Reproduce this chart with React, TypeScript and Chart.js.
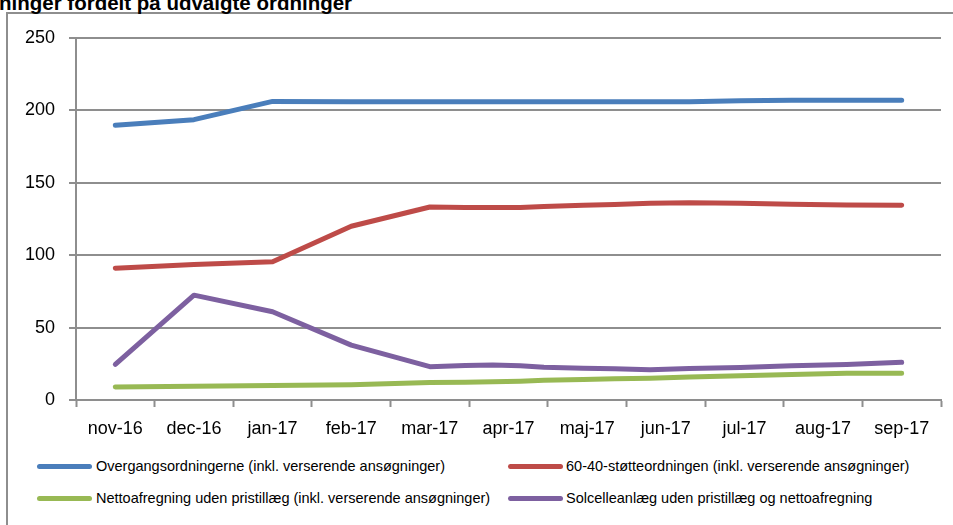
import React, { useEffect, useRef } from 'react';
import { Chart, registerables } from 'chart.js';

Chart.register(...registerables);

const title = 'ninger fordelt på udvalgte ordninger';
const months = ['nov-16', 'dec-16', 'jan-17', 'feb-17', 'mar-17', 'apr-17', 'maj-17', 'jun-17', 'jul-17', 'aug-17', 'sep-17'];
// observation dates as month positions (0 = nov-16)
const obsMonths = [0, 1, 2, 3, 4, 4.45, 4.8, 5.15, 5.45, 5.95, 6.35, 6.8, 7.3, 7.95, 8.6, 9.3, 10];
const overgang = [189.7, 193.6, 206.2, 206, 206, 206, 206, 206, 206, 206, 206, 206, 206, 206.6, 207, 207, 207];
const stoette = [91, 93.5, 95.5, 120, 133.3, 133, 133, 133, 133.6, 134.5, 135, 135.8, 136.3, 135.8, 135.2, 134.6, 134.5];
const netto = [9, 9.5, 10, 10.5, 12, 12.3, 12.6, 13, 13.6, 14.2, 14.6, 15, 15.8, 16.8, 17.6, 18.4, 18.5];
const solcelle = [24.6, 72.4, 60.9, 37.9, 23, 23.8, 24.2, 23.6, 22.6, 21.9, 21.5, 20.9, 21.8, 22.5, 23.6, 24.6, 26];
const yTicks = [0, 50, 100, 150, 200, 250];

const seriesNames = [
  'Overgangsordningerne (inkl. verserende ansøgninger)',
  '60-40-støtteordningen (inkl. verserende ansøgninger)',
  'Nettoafregning uden pristillæg (inkl. verserende ansøgninger)',
  'Solcelleanlæg uden pristillæg og nettoafregning',
];
const seriesValues = [overgang, stoette, netto, solcelle];
const seriesColors = ['#4A7EBB', '#BE4B48', '#98B954', '#7D60A0'];

const GRAY = '#8e8e8e';
const FONT = "'Liberation Sans', Arial, sans-serif";

export default function App() {
  const ref = useRef<HTMLCanvasElement | null>(null);

  useEffect(() => {
    if (!ref.current) return;
    const chart = new Chart(ref.current, {
      type: 'line',
      data: {
        datasets: seriesNames.map((name, si) => ({
          label: name,
          data: obsMonths.map((x, i) => ({ x, y: seriesValues[si][i] })),
          borderColor: seriesColors[si],
          backgroundColor: seriesColors[si],
          borderWidth: 5,
          pointRadius: 0,
          tension: 0,
          borderCapStyle: 'round',
          borderJoinStyle: 'round',
          fill: false,
        })),
      },
      options: {
        animation: false,
        responsive: false,
        maintainAspectRatio: false,
        layout: { padding: { top: 38, right: 12, left: 0, bottom: 0 } },
        plugins: { legend: { display: false }, tooltip: { enabled: false } },
        scales: {
          x: {
            type: 'linear',
            min: -0.5,
            max: months.length - 0.5,
            afterFit: (s: any) => { s.height = 45; },
            afterBuildTicks: (s: any) => {
              const t = [];
              for (let k = 0; k <= months.length * 2; k++) t.push({ value: -0.5 + k * 0.5 });
              s.ticks = t;
            },
            grid: {
              drawOnChartArea: false,
              drawTicks: true,
              tickLength: 7,
              tickWidth: 2,
              tickColor: (ctx: any) =>
                ctx.tick && Math.abs(ctx.tick.value % 1) === 0.5 ? GRAY : 'rgba(0,0,0,0)',
            },
            border: { display: true, color: GRAY, width: 2 },
            ticks: {
              autoSkip: false,
              maxRotation: 0,
              minRotation: 0,
              padding: 11,
              color: '#000',
              font: { family: FONT, size: 18 },
              callback: (v: any) => (Number.isInteger(v) ? months[v] : ''),
            },
          },
          y: {
            min: 0,
            max: 250,
            afterFit: (s: any) => { s.width = 76; },
            afterBuildTicks: (s: any) => { s.ticks = yTicks.map((v) => ({ value: v })); },
            grid: { color: GRAY, lineWidth: 2, tickLength: 7 },
            border: { display: true, color: GRAY, width: 2 },
            ticks: { padding: 14, color: '#000', font: { family: FONT, size: 18 } },
          },
        },
      },
    } as any);
    return () => chart.destroy();
  }, []);

  const legendPos = [
    { lx: 37, tx: 96, y: 466 },
    { lx: 508, tx: 566, y: 466 },
    { lx: 37, tx: 96, y: 498 },
    { lx: 508, tx: 566, y: 498 },
  ];

  return (
    <div style={{ position: 'absolute', left: 0, top: 0, width: 953, height: 525, overflow: 'hidden', background: '#fff' }}>
      <div style={{ position: 'absolute', left: 6, top: 12, width: 980, height: 560, borderLeft: `2px solid ${GRAY}`, borderTop: `2px solid ${GRAY}` }} />
      <div style={{ position: 'absolute', left: -1, top: -7, fontFamily: FONT, fontWeight: 'bold', fontSize: 20.5, lineHeight: '20px', whiteSpace: 'nowrap', color: '#000' }}>
        {title}
      </div>
      <canvas ref={ref} width={953} height={445} style={{ position: 'absolute', left: 0, top: 0, width: 953, height: 445 }} />
      {seriesNames.map((name, i) => (
        <React.Fragment key={name}>
          <div style={{ position: 'absolute', left: legendPos[i].lx, top: legendPos[i].y - 2.5, width: 55, height: 5, borderRadius: 3, background: seriesColors[i] }} />
          <div style={{ position: 'absolute', left: legendPos[i].tx, top: legendPos[i].y - 9, fontFamily: FONT, fontSize: 14.5, lineHeight: '18px', whiteSpace: 'nowrap', color: '#000' }}>
            {name}
          </div>
        </React.Fragment>
      ))}
    </div>
  );
}
